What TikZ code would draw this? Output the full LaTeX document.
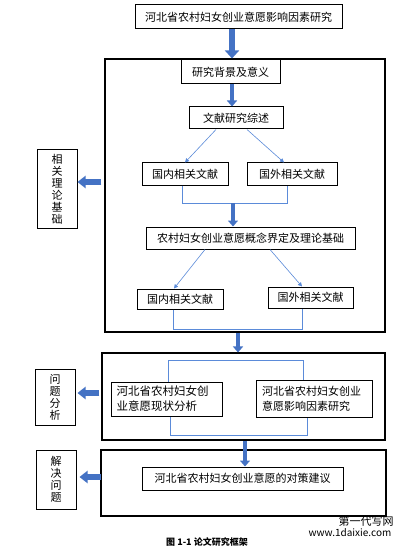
\documentclass[tikz,border=0pt]{standalone}
\usepackage{fontspec}
\setmainfont{Noto Sans CJK SC}
\usetikzlibrary{arrows.meta}
\definecolor{arrowblue}{HTML}{4472C4}
\definecolor{lineblue}{HTML}{5B8BD9}

\begin{document}
\begin{tikzpicture}[x=1pt,y=-1pt]
	\tikzset{box/.style = {draw, line width=1pt, inner sep=0pt, font=\fontsize{11}{12}\selectfont},
		panel/.style = {draw, line width=1.1pt, inner sep=0pt},
		fat/.style = {arrowblue, line width=6.5pt, -{Triangle[length=8pt, width=14pt]}},
		midarrow/.style = {arrowblue, line width=4.5pt, -{Triangle[length=6pt, width=10pt]}},
		sidearrow/.style = {arrowblue, line width=6pt, -{Triangle[length=8pt, width=12pt]}},
		link/.style = {lineblue, line width=0.6pt, -{Triangle[length=4pt, width=4pt]}},
		bracketline/.style = {lineblue, line width=0.9pt}}

	\path[fill=white] (0,0) rectangle (406,548);
	\useasboundingbox (0,0) rectangle (406,548);

	\node[box, minimum width=207pt, minimum height=24pt] (title) at (238.5,17) {河北省农村妇女创业意愿影响因素研究};

	\node[panel, minimum width=280pt, minimum height=273pt] (frame_1) at (245,195.5) {};
	\node[panel, minimum width=283pt, minimum height=87pt] (frame_2) at (243.5,396.5) {};
	\node[panel, minimum width=285pt, minimum height=66pt] (frame_3) at (243.5,483) {};

	\node[box, minimum width=99pt, minimum height=24pt] (bg) at (230.5,72) {研究背景及意义};
	\node[box, minimum width=94pt, minimum height=22pt] (review) at (236,118) {文献研究综述};
	\node[box, minimum width=86pt, minimum height=22pt] (lit_1) at (185,174) {国内相关文献};
	\node[box, minimum width=90pt, minimum height=22pt] (lit_2) at (292,174) {国外相关文献};
	\node[box, minimum width=209pt, minimum height=22pt] (concept) at (250.5,238) {农村妇女创业意愿概念界定及理论基础};
	\node[box, minimum width=86pt, minimum height=20pt] (lit_3) at (180,299) {国内相关文献};
	\node[box, minimum width=85pt, minimum height=21pt] (lit_4) at (310.5,297.5) {国外相关文献};

	\node[box, minimum width=111pt, minimum height=34pt, text width=100pt, align=left, font=\fontsize{11.5}{15}\selectfont] (status) at (166.5,399) {河北省农村妇女创\\业意愿现状分析};
	\node[box, minimum width=116pt, minimum height=37pt, text width=104pt, align=left, font=\fontsize{11}{15}\selectfont] (factor) at (314,398.5) {河北省农村妇女创业\\意愿影响因素研究};

	\node[box, minimum width=201pt, minimum height=23pt] (advice) at (242.5,478.5) {河北省农村妇女创业意愿的对策建议};

	\node[box, minimum width=40pt, minimum height=78pt, align=center] (side_1) at (57,189) {相\\关\\理\\论\\基\\础};
	\node[box, minimum width=40pt, minimum height=56pt, align=center] (side_2) at (55,397) {问\\题\\分\\析};
	\node[box, minimum width=40pt, minimum height=59pt, align=center] (side_3) at (56,479.5) {解\\决\\问\\题};

	\node[font=\bfseries\fontsize{9}{10}\selectfont] (caption) at (207,542) {图 1-1 论文研究框架};
	\node[font=\fontsize{11}{12}\selectfont] (mark_1) at (366,521) {第一代写网};
	\node[font=\fontsize{10}{12}\selectfont] (mark_2) at (350,533) {www.1daixie.com};

	\coordinate (merge_1) at (233,203);

	\draw[fat] ([xshift=-6.5pt]title.south) -- ([xshift=-6.5pt]title.south |- frame_1.north);
	\draw[midarrow] ([xshift=1.5pt]bg.south) -- ([xshift=1.5pt]bg.south |- review.north);

	\draw[link] ([xshift=-20pt]review.south) -- (lit_1.north);
	\draw[link] ([xshift=11pt]review.south) -- ([xshift=-8pt]lit_2.north);
	\draw[bracketline] ([xshift=-3pt]lit_1.south) -- ++(0,18) -| ([xshift=-5pt]lit_2.south);
	\draw[midarrow] (merge_1) -- (merge_1 |- concept.north);

	\draw[link] ([xshift=-45.5pt]concept.south) -- ([xshift=-6pt]lit_3.north);
	\draw[link] ([xshift=19.5pt]concept.south) -- ([xshift=-8.5pt]lit_4.north);
	\draw[bracketline] ([xshift=-7pt]lit_3.south) -- ++(0,20) -| ([xshift=-8.5pt]lit_4.south);

	\draw[midarrow] ([xshift=-7pt]frame_1.south) -- ([xshift=-7pt]frame_1.south |- frame_2.north);

	\draw[bracketline] ([xshift=1.5pt]status.north) -- ++(0,-21) -| ([xshift=-11pt]factor.north);
	\draw[bracketline] ([xshift=3.5pt]status.south) -- ++(0,19) -| ([xshift=-7pt]factor.south);

	\draw[midarrow] ([xshift=1.5pt]frame_2.south) -- ([xshift=1.5pt]frame_2.south |- advice.north);

	\draw[sidearrow] ([xshift=-3pt,yshift=13.5pt]frame_1.west) -- ([yshift=7pt]side_1.east);
	\draw[sidearrow] ([xshift=-2pt,yshift=3.5pt]frame_2.west) -- ([xshift=2pt,yshift=4pt]side_2.east);
	\draw[sidearrow] ([xshift=1pt,yshift=6pt]frame_3.west) -- ([xshift=3pt,yshift=2.5pt]side_3.east);

\end{tikzpicture}
\end{document}
